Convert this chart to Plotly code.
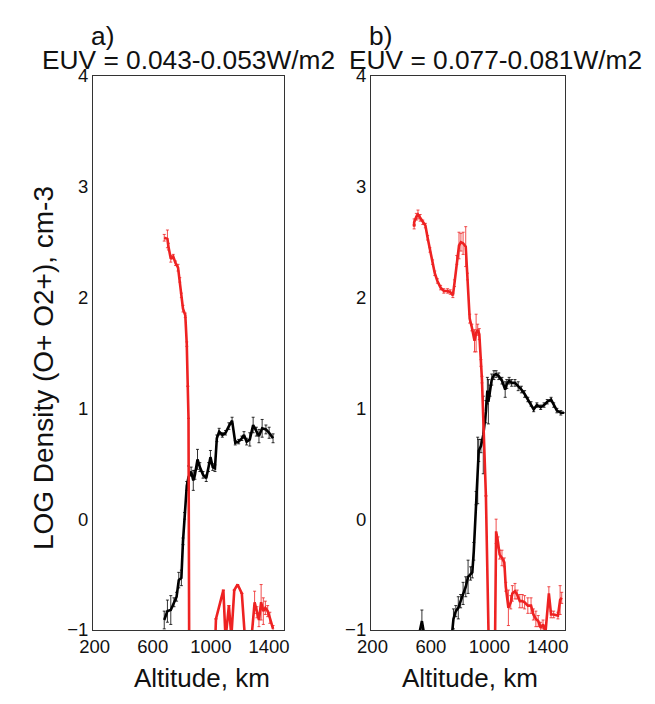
import plotly.graph_objects as go

# ---------------- data (panel a) ----------------
a_red_alt = [679, 701, 708, 724, 741, 757, 774, 786, 797, 808, 824, 834, 841, 846, 851,
             1025, 1035, 1086, 1101, 1124, 1141, 1161, 1184, 1213, 1235, 1279, 1301, 1317,
             1331, 1346, 1361, 1375, 1391, 1406, 1428]
a_red_val = [2.54, 2.53, 2.46, 2.35, 2.37, 2.31, 2.27, 2.16, 2.02, 1.90, 1.84, 1.58, 1.20, 0.91, -1.3,
             -1.3, -0.90, -0.64, -1.08, -0.78, -1.06, -0.64, -0.59, -0.67, -1.08, -1.08, -0.75, -0.84,
             -0.91, -0.75, -0.83, -0.80, -0.83, -0.89, -0.99]
a_red_err = [0.03, 0.08, 0.03, 0.03, 0.02, 0.02, 0.03, 0.02, 0.02, 0.03, 0.02, 0.02, 0.0, 0.0, 0.0,
             0.0, 0.0, 0.0, 0.0, 0.0, 0.0, 0.0, 0.0, 0.0, 0.0, 0.0, 0.1, 0.05,
             0.06, 0.16, 0.12, 0.06, 0.05, 0.05, 0.03]

a_blk_alt = [679, 701, 724, 746, 764, 779, 797, 808, 819, 834, 846, 864, 879, 890, 908, 924, 946,
             968, 984, 997, 1013, 1028, 1041, 1057, 1079, 1101, 1124, 1146, 1168, 1191, 1213,
             1228, 1246, 1268, 1291, 1313, 1331, 1353, 1379, 1401, 1428]
a_blk_val = [-0.91, -0.83, -0.82, -0.75, -0.70, -0.55, -0.53, -0.20, 0.03, 0.30, 0.38, 0.43, 0.35,
             0.40, 0.54, 0.47, 0.40, 0.37, 0.47, 0.56, 0.47, 0.46, 0.73, 0.79, 0.76, 0.78, 0.84,
             0.89, 0.69, 0.70, 0.73, 0.76, 0.70, 0.72, 0.85, 0.79, 0.75, 0.82, 0.81, 0.78, 0.73]
a_blk_err = [0.08, 0.10, 0.13, 0.04, 0.04, 0.07, 0.07, 0.03, 0.03, 0.04, 0.10, 0.04, 0.09,
             0.04, 0.09, 0.04, 0.03, 0.03, 0.04, 0.06, 0.03, 0.03, 0.03, 0.03, 0.02, 0.02, 0.03,
             0.03, 0.02, 0.02, 0.02, 0.03, 0.03, 0.06, 0.07, 0.04, 0.06, 0.08, 0.04, 0.05, 0.04]

# ---------------- data (panel b) ----------------
b_red_alt = [485, 485, 500, 511, 526, 544, 562, 577, 593, 611, 626, 644, 666, 688, 714, 732, 750,
             761, 777, 792, 805, 820, 838, 850, 865, 880, 898, 909, 920, 931, 942, 949, 976, 998,
             1037, 1046, 1059, 1070, 1086, 1102, 1112, 1130, 1146, 1157, 1175, 1190, 1208, 1225,
             1241, 1263, 1285, 1301, 1318, 1334, 1351, 1367, 1384, 1407, 1422, 1440, 1469, 1484, 1495]
b_red_val = [2.64, 2.68, 2.73, 2.75, 2.72, 2.68, 2.65, 2.54, 2.43, 2.32, 2.22, 2.15, 2.09, 2.06, 2.06,
             2.05, 2.02, 2.13, 2.34, 2.47, 2.50, 2.49, 2.46, 2.19, 1.81, 1.73, 1.61, 1.68, 1.71,
             1.67, 1.41, 1.26, 0.21, -1.3, -1.3, -0.11, -0.21, -0.32, -0.35, -0.39, -0.61, -0.80,
             -0.75, -0.67, -0.65, -0.68, -0.74, -0.74, -0.75, -0.78, -0.78, -0.86, -0.90, -0.92,
             -0.98, -0.95, -1.02, -0.67, -0.86, -0.86, -0.87, -0.73, -0.71]
b_red_err = [0.02, 0.03, 0.03, 0.04, 0.03, 0.02, 0.02, 0.02, 0.02, 0.02, 0.02, 0.02, 0.02, 0.02, 0.02,
             0.02, 0.02, 0.03, 0.04, 0.12, 0.08, 0.10, 0.18, 0.03, 0.04, 0.03, 0.10, 0.17, 0.05,
             0.05, 0.03, 0.03, 0.0, 0.0, 0.0, 0.11, 0.05, 0.04, 0.07, 0.04, 0.04, 0.16,
             0.06, 0.07, 0.07, 0.04, 0.06, 0.06, 0.06, 0.07, 0.07, 0.05, 0.07, 0.05,
             0.05, 0.04, 0.0, 0.06, 0.03, 0.03, 0.03, 0.13, 0.05]

b_blk_alt = [515, 522, 538, 555, 743, 754, 770, 787, 803, 820, 838, 854, 871, 883, 893, 909, 920,
             927, 942, 958, 976, 986, 993, 1004, 1016, 1031, 1046, 1064, 1086, 1108, 1119, 1135,
             1152, 1175, 1197, 1219, 1241, 1263, 1285, 1303, 1325, 1351, 1374, 1396, 1422, 1440,
             1462, 1489, 1510]
b_blk_val = [-1.3, -1.02, -0.92, -1.05, -1.05, -0.90, -0.83, -0.80, -0.74, -0.67, -0.61, -0.52,
             -0.49, -0.48, -0.29, 0.19, 0.44, 0.62, 0.66, 0.76, 0.97, 1.16, 1.06, 1.16, 1.26, 1.30,
             1.31, 1.29, 1.25, 1.17, 1.22, 1.25, 1.23, 1.23, 1.20, 1.17, 1.13, 1.08, 1.04, 0.99,
             1.03, 1.01, 1.03, 1.06, 1.08, 1.03, 0.98, 0.96, 0.96]
b_blk_err = [0.0, 0.0, 0.1, 0.0, 0.0, 0.09, 0.05, 0.10, 0.06, 0.10, 0.09, 0.15, 0.06, 0.05, 0.08,
             0.06, 0.30, 0.10, 0.06, 0.35, 0.10, 0.12, 0.20, 0.05, 0.05, 0.04, 0.03, 0.03, 0.03,
             0.07, 0.04, 0.03, 0.03, 0.03, 0.04, 0.03, 0.03, 0.02, 0.02, 0.02, 0.02, 0.02, 0.02,
             0.02, 0.02, 0.02, 0.02, 0.02, 0.0]

x_ticks = [200, 600, 1000, 1400]
y_ticks = [-1, 0, 1, 2, 3, 4]
titles_top = ["a)", "b)"]
titles_euv = ["EUV = 0.043-0.053W/m2", "EUV = 0.077-0.081W/m2"]
x_title = "Altitude, km"
y_title = "LOG Density (O+ O2+), cm-3"

RED = "#ee2222"
BLK = "#000000"
FONT = "Liberation Sans, Arial, Helvetica, sans-serif"
W, H = 655, 704


def px(x):
    return x / W


def py(y):
    return 1 - y / H


fig = go.Figure()


def add(xs, ys, es, color, axis):
    fig.add_trace(go.Scatter(
        x=xs, y=ys, mode="lines", xaxis="x" + axis, yaxis="y" + axis,
        line=dict(color=color, width=2.6),
        error_y=dict(type="data", array=es, visible=True, color=color, thickness=0.8, width=1.5),
        showlegend=False, hoverinfo="skip"))


add(a_blk_alt, a_blk_val, a_blk_err, BLK, "")
add(a_red_alt, a_red_val, a_red_err, RED, "")
add(b_blk_alt, b_blk_val, b_blk_err, BLK, "2")
add(b_red_alt, b_red_val, b_red_err, RED, "2")

ydom = [py(638), py(67)]
axis_common = dict(showgrid=False, zeroline=False, showline=True, mirror=True,
                   linecolor="#333333", linewidth=1.3, ticks="",
                   tickfont=dict(family=FONT, size=18.5, color="#111"))

fig.update_layout(
    width=W, height=H, margin=dict(l=0, r=0, t=0, b=0),
    paper_bgcolor="white", plot_bgcolor="white",
    xaxis=dict(domain=[px(81.7), px(278)], range=[190, 1500], tickvals=x_ticks,
               anchor="y", **axis_common),
    yaxis=dict(domain=ydom, range=[-1, 4], tickvals=y_ticks, anchor="x", **axis_common),
    xaxis2=dict(domain=[px(368.3), px(568)], range=[190, 1515], tickvals=x_ticks,
                anchor="y2", **axis_common),
    yaxis2=dict(domain=ydom, range=[-1, 4], tickvals=y_ticks, anchor="x2", **axis_common),
)

ann = []
for cx, t in zip([91, 378], titles_top):
    ann.append(dict(x=px(cx), y=py(26), text=t))
for cx, t in zip([180, 497], titles_euv):
    ann.append(dict(x=px(cx), y=py(51), text=t))
for cx in [194, 470]:
    ann.append(dict(x=px(cx), y=py(688), text=x_title, size=26))
ann.append(dict(x=px(30), y=py(368), text=y_title, size=28, textangle=-90))

fig.update_layout(annotations=[
    dict(xref="paper", yref="paper", x=a["x"], y=a["y"], text=a["text"], showarrow=False,
         xanchor="center", yanchor="middle", textangle=a.get("textangle", 0),
         font=dict(family=FONT, size=a.get("size", 26.3), color="#111"))
    for a in ann])

fig.write_html("out.html", config={"displayModeBar": False},
               post_script="document.body.style.margin='0';")
